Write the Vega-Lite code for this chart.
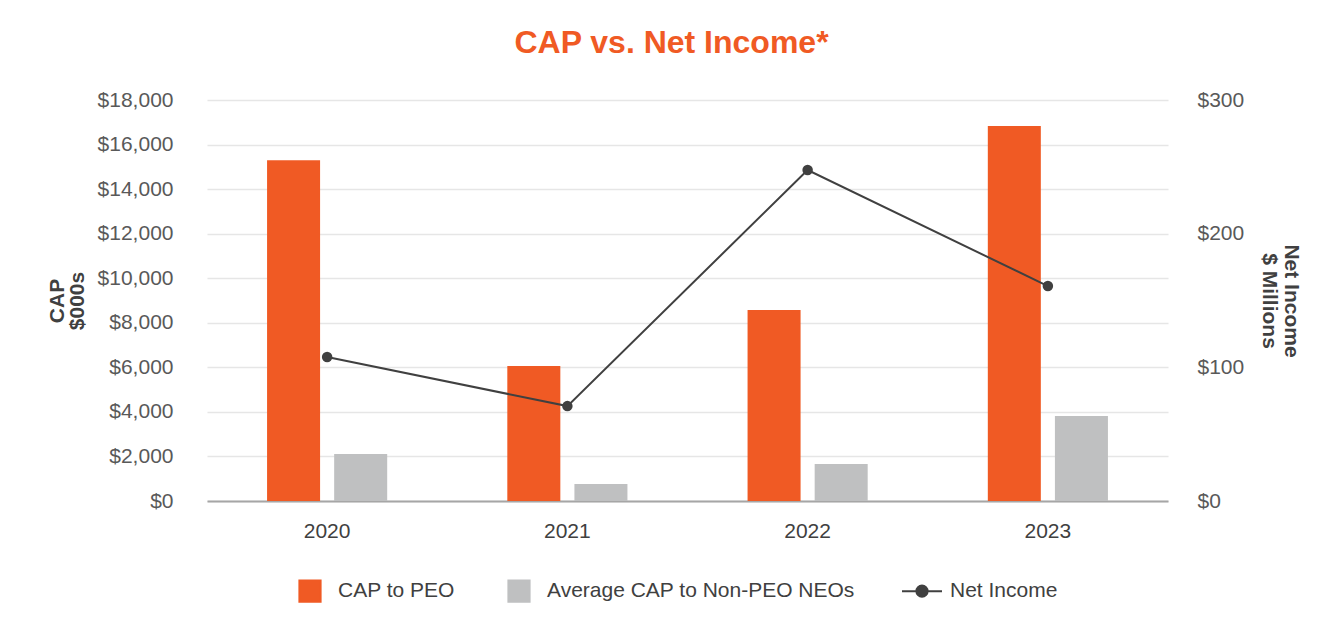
{
  "$schema": "https://vega.github.io/schema/vega-lite/v6.json",
  "width": 961,
  "height": 401,
  "autosize": {"type": "none"},
  "padding": {"left": 207, "top": 100, "right": 176, "bottom": 139},
  "background": "white",
  "config": {
    "font": "Liberation Sans",
    "view": {"stroke": null},
    "axis": {"labelFont": "Liberation Sans", "titleFont": "Liberation Sans"}
  },
  "title": {
    "text": "CAP vs. Net Income*",
    "color": "#F05A24",
    "fontSize": 32,
    "fontWeight": "bold",
    "font": "Liberation Sans",
    "baseline": "alphabetic",
    "offset": 4,
    "dx": -16
  },
  "datasets": {
    "cap": [
      {"year": "2020", "series": "CAP to PEO", "value": 15300},
      {"year": "2020", "series": "Average CAP to Non-PEO NEOs", "value": 2110},
      {"year": "2021", "series": "CAP to PEO", "value": 6060},
      {"year": "2021", "series": "Average CAP to Non-PEO NEOs", "value": 760},
      {"year": "2022", "series": "CAP to PEO", "value": 8570},
      {"year": "2022", "series": "Average CAP to Non-PEO NEOs", "value": 1660},
      {"year": "2023", "series": "CAP to PEO", "value": 16830},
      {"year": "2023", "series": "Average CAP to Non-PEO NEOs", "value": 3815}
    ],
    "income": [
      {"year": "2020", "series": "Net Income", "value": 107.7},
      {"year": "2021", "series": "Net Income", "value": 71},
      {"year": "2022", "series": "Net Income", "value": 247.6},
      {"year": "2023", "series": "Net Income", "value": 160.8}
    ]
  },
  "layer": [
    {
      "data": {"name": "cap"},
      "mark": {"type": "bar"},
      "encoding": {
        "x": {
          "field": "year",
          "type": "nominal",
          "scale": {"paddingInner": 0.5, "paddingOuter": 0.25},
          "axis": {
            "title": null,
            "labelAngle": 0,
            "labelFontSize": 21,
            "labelColor": "#404040",
            "labelPadding": 19,
            "ticks": false,
            "domainColor": "#a6a6a6",
            "domainWidth": 2,
            "grid": false
          }
        },
        "xOffset": {
          "field": "series",
          "type": "nominal",
          "scale": {"domain": ["CAP to PEO", "Average CAP to Non-PEO NEOs"], "paddingInner": 0.21, "paddingOuter": 0}
        },
        "y": {
          "field": "value",
          "type": "quantitative",
          "scale": {"domain": [0, 18000], "nice": false},
          "axis": {
            "title": ["CAP", "$000s"],
            "titleFontSize": 21,
            "titleFontWeight": "bold",
            "titleColor": "#404040",
            "titlePadding": 10,
            "titleLineHeight": 20,
            "values": [0, 2000, 4000, 6000, 8000, 10000, 12000, 14000, 16000, 18000],
            "format": "$,.0f",
            "labelFontSize": 21,
            "labelColor": "#595959",
            "labelPadding": 34,
            "ticks": false,
            "domain": false,
            "grid": true,
            "gridColor": "#e6e6e6",
            "gridWidth": 1.5
          }
        },
        "color": {
          "field": "series",
          "type": "nominal",
          "scale": {
            "domain": ["CAP to PEO", "Average CAP to Non-PEO NEOs", "Net Income"],
            "range": ["#F05A24", "#BFC0C1", "#404040"]
          },
          "legend": {
            "title": null,
            "orient": "none",
            "direction": "horizontal",
            "legendX": 82,
            "legendY": 470,
            "padding": 0,
            "symbolSize": 1600,
            "labelFontSize": 21,
            "labelColor": "#404040",
            "labelFont": "Liberation Sans",
            "labelOffset": 7,
            "columnPadding": 43,
            "labelLimit": 400,
            "encode": {
              "symbols": {
                "update": {
                  "shape": {"signal": "datum.value === 'Net Income' ? 'M0,-0.53L0,-0.53M0,0.53L0,0.53M-1,0H1M0.28,0A0.28,0.28,0,1,1,-0.28,0A0.28,0.28,0,1,1,0.28,0Z' : 'M-0.53,-0.53H0.53V0.53H-0.53Z'"},
                  "fill": {"signal": "datum.value === 'Net Income' ? '#404040' : (datum.value === 'CAP to PEO' ? '#F05A24' : '#BFC0C1')"},
                  "stroke": {"signal": "datum.value === 'Net Income' ? '#404040' : 'transparent'"},
                  "strokeWidth": {"value": 2},
                  "opacity": {"value": 1}
                }
              }
            }
          }
        }
      }
    },
    {
      "data": {"name": "income"},
      "mark": {"type": "line", "strokeWidth": 2, "point": {"filled": true, "size": 110}},
      "encoding": {
        "x": {"field": "year", "type": "nominal"},
        "y": {
          "field": "value",
          "type": "quantitative",
          "scale": {"domain": [0, 300], "nice": false},
          "axis": {
            "orient": "right",
            "title": ["Net Income", "$ Millions"],
            "titleFontSize": 21,
            "titleFontWeight": "bold",
            "titleColor": "#404040",
            "titlePadding": 15,
            "titleLineHeight": 22,
            "values": [0, 100, 200, 300],
            "format": "$,.0f",
            "labelFontSize": 21,
            "labelColor": "#595959",
            "labelPadding": 29,
            "ticks": false,
            "domain": false,
            "grid": false
          }
        },
        "color": {"field": "series", "type": "nominal"}
      }
    }
  ],
  "resolve": {"scale": {"y": "independent"}, "axis": {"y": "independent"}}
}
